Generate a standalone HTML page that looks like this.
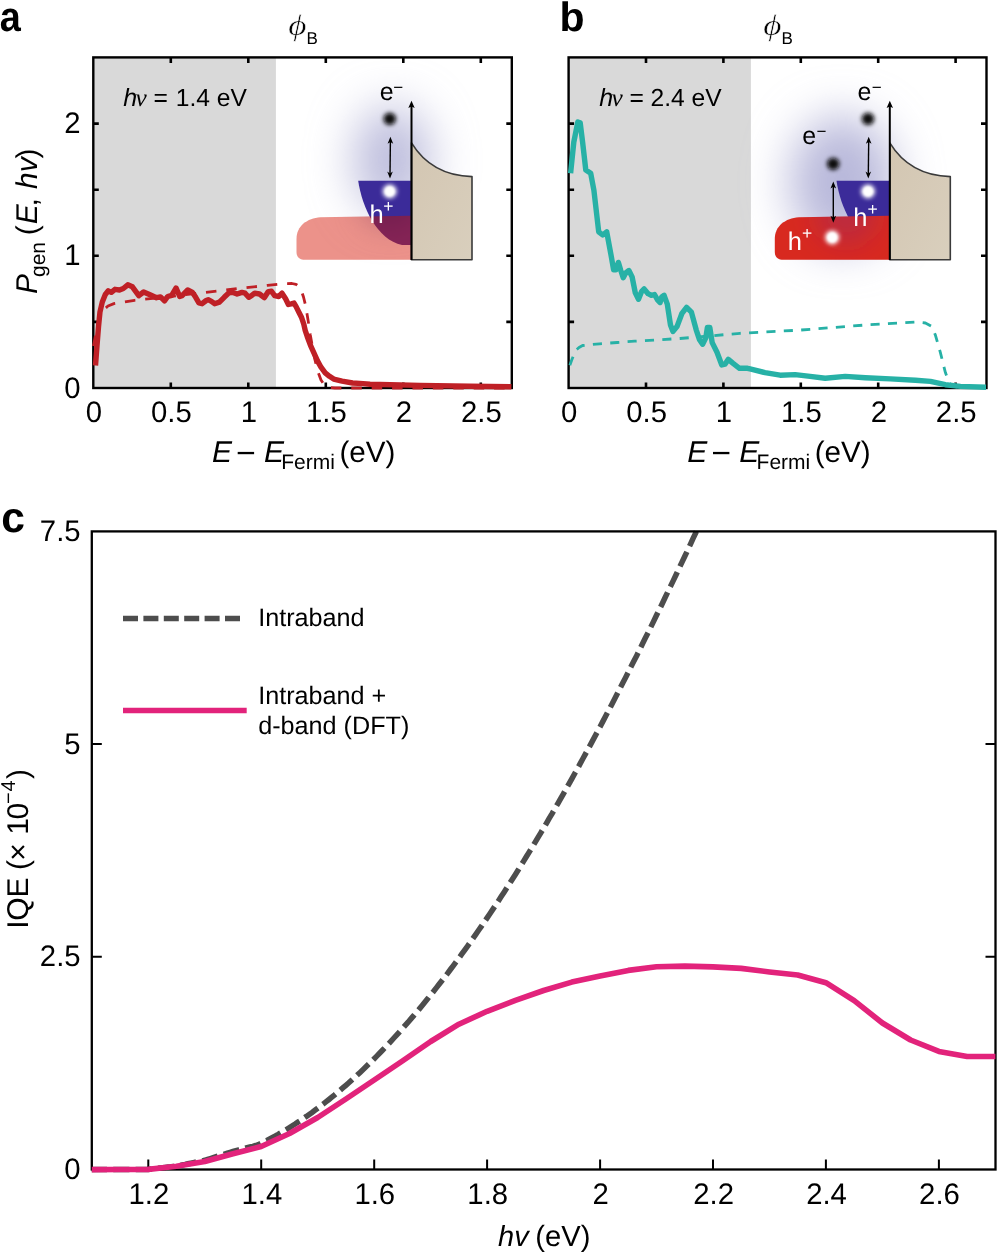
<!DOCTYPE html><html><head><meta charset="utf-8"><style>html,body{margin:0;padding:0;background:#fff;width:998px;height:1253px;overflow:hidden}svg{display:block}text{font-family:"Liberation Sans",sans-serif;text-rendering:geometricPrecision}.serif{font-family:"Liberation Serif",serif}</style></head><body>
<svg width="998" height="1253" viewBox="0 0 998 1253">
<defs><filter id="haloblur" x="-2" y="-2" width="5" height="5"><feGaussianBlur stdDeviation="23"/></filter><filter id="haloblur2" x="-2" y="-2" width="5" height="5"><feGaussianBlur stdDeviation="14"/></filter><filter id="blur22" x="-1" y="-1" width="3" height="3"><feGaussianBlur stdDeviation="2.1"/></filter><filter id="blur15" x="-1" y="-1" width="3" height="3"><feGaussianBlur stdDeviation="1.6"/></filter><filter id="blur1" x="-1" y="-1" width="3" height="3"><feGaussianBlur stdDeviation="1.2"/></filter><filter id="blur2" x="-1" y="-1" width="3" height="3"><feGaussianBlur stdDeviation="2.2"/></filter><filter id="blur3" x="-1" y="-1" width="3" height="3"><feGaussianBlur stdDeviation="2.6"/></filter><radialGradient id="haloA" cx="0.5" cy="0.5" r="0.5"><stop offset="0" stop-color="#b9b9d9" stop-opacity="1"/><stop offset="0.45" stop-color="#c9c9e2" stop-opacity="0.8"/><stop offset="1" stop-color="#ffffff" stop-opacity="0"/></radialGradient><radialGradient id="haloB" cx="0.5" cy="0.5" r="0.5"><stop offset="0" stop-color="#b4b4d6" stop-opacity="1"/><stop offset="0.45" stop-color="#c6c6e0" stop-opacity="0.8"/><stop offset="1" stop-color="#ffffff" stop-opacity="0"/></radialGradient><linearGradient id="tan" x1="0" y1="0" x2="1" y2="1"><stop offset="0" stop-color="#d3c6b2"/><stop offset="1" stop-color="#d9cfbd"/></linearGradient></defs>
<rect x="93.3" y="57.4" width="182.6" height="330.6" fill="#d9d9d9"/>
<rect x="568.6" y="57.4" width="182.3" height="330.6" fill="#d9d9d9"/>
<ellipse cx="392.0" cy="160" rx="38" ry="54" fill="#bcbcdc" filter="url(#haloblur)"/>
<path d="M358.2,180.8 C362.0,207 377.0,240 402.0,245 L411.5,245 L411.5,180.8 Z" fill="#3b2b99"/>
<clipPath id="clipA"><path d="M411.5,215.7 L320.5,217.3 C307.0,218.3 296.5,226 296.5,239 L296.5,252 C296.5,257 299.5,259.8 305.0,259.8 L411.5,259.8 Z"/></clipPath>
<path d="M411.5,215.7 L320.5,217.3 C307.0,218.3 296.5,226 296.5,239 L296.5,252 C296.5,257 299.5,259.8 305.0,259.8 L411.5,259.8 Z" fill="#d71c0a" fill-opacity="0.48"/>
<g clip-path="url(#clipA)" style="mix-blend-mode:multiply"><circle cx="390.0" cy="200" r="26" fill="#d8d0e8" filter="url(#haloblur2)"/></g>
<path d="M411.5,142.8 C420.5,157.5 437.0,175.5 472.0,176.6 L472.0,259.8 L411.5,259.8 Z" fill="url(#tan)" stroke="#3a3a3a" stroke-width="1.6" stroke-linejoin="round"/>
<path d="M411.5,260 V106" stroke="#000" stroke-width="2"/>
<path d="M411.50,100.80 L408.30,108.00 L411.50,106.40 L414.70,108.00 Z" fill="#000"/>
<path d="M390.4,141 L390.0,174.5" stroke="#000" stroke-width="1.4"/>
<path d="M390.40,136.80 L387.60,143.80 L390.40,142.00 L393.20,143.80 Z M390.00,178.60 L387.20,171.60 L390.00,173.40 L392.80,171.60 Z" fill="#000"/>
<circle cx="389.7" cy="118.9" r="6.2" fill="#080808" filter="url(#blur22)"/>
<circle cx="389.7" cy="191.4" r="7" fill="#fff" filter="url(#blur22)"/>
<circle cx="389.7" cy="191.4" r="4.6" fill="#fff" filter="url(#blur1)"/>
<text transform="translate(0,100.1) scale(1,1.0)"><tspan x="379.64" y="0.00" font-size="25">e</tspan><tspan x="393.16" y="-6.95" font-size="17">−</tspan></text>
<text transform="translate(0,222.7) scale(1,1.0)" fill="#fff"><tspan x="369.43" y="0.00" font-size="25.5">h</tspan><tspan x="383.15" y="-11.20" font-size="17.5">+</tspan></text>
<ellipse cx="842.3" cy="182" rx="52" ry="66" fill="#b8b8da" filter="url(#haloblur)"/>
<path d="M836.5,180.8 C840.3,207 855.3,240 880.3,245 L889.8,245 L889.8,180.8 Z" fill="#3b2b99"/>
<clipPath id="clipB"><path d="M889.8,215.7 L798.8,217.3 C785.3,218.3 774.8,226 774.8,239 L774.8,252 C774.8,257 777.8,259.8 783.3,259.8 L889.8,259.8 Z"/></clipPath>
<path d="M889.8,215.7 L798.8,217.3 C785.3,218.3 774.8,226 774.8,239 L774.8,252 C774.8,257 777.8,259.8 783.3,259.8 L889.8,259.8 Z" fill="#d8291f"/>
<g clip-path="url(#clipB)"><circle cx="846.3" cy="214" r="30" fill="#7a2a8a" fill-opacity="0.3" filter="url(#haloblur2)"/></g>
<path d="M889.8,142.8 C898.8,157.5 915.3,175.5 950.3,176.6 L950.3,259.8 L889.8,259.8 Z" fill="url(#tan)" stroke="#3a3a3a" stroke-width="1.6" stroke-linejoin="round"/>
<path d="M889.8,260 V106" stroke="#000" stroke-width="2"/>
<path d="M889.80,100.80 L886.60,108.00 L889.80,106.40 L893.00,108.00 Z" fill="#000"/>
<path d="M868.7,141 L868.3,174.5" stroke="#000" stroke-width="1.4"/>
<path d="M868.70,136.80 L865.90,143.80 L868.70,142.00 L871.50,143.80 Z M868.30,178.60 L865.50,171.60 L868.30,173.40 L871.10,171.60 Z" fill="#000"/>
<circle cx="868.0" cy="118.9" r="6.2" fill="#080808" filter="url(#blur22)"/>
<circle cx="868.0" cy="191.4" r="7" fill="#fff" filter="url(#blur22)"/>
<circle cx="868.0" cy="191.4" r="4.6" fill="#fff" filter="url(#blur1)"/>
<path d="M833.3,186 V218" stroke="#000" stroke-width="1.4"/>
<path d="M833.30,181.60 L830.50,188.60 L833.30,186.80 L836.10,188.60 Z M833.30,222.80 L830.50,215.80 L833.30,217.60 L836.10,215.80 Z" fill="#000"/>
<circle cx="833.2" cy="163.9" r="6.2" fill="#080808" filter="url(#blur22)"/>
<circle cx="832.2" cy="237.4" r="7" fill="#fff" filter="url(#blur22)"/><circle cx="832.2" cy="237.4" r="4.6" fill="#fff" filter="url(#blur1)"/>
<text transform="translate(0,100.4) scale(1,1.0)"><tspan x="857.54" y="0.00" font-size="25">e</tspan><tspan x="871.76" y="-6.95" font-size="17">−</tspan></text>
<text transform="translate(0,144.3) scale(1,1.0)"><tspan x="802.34" y="0.00" font-size="25">e</tspan><tspan x="816.56" y="-6.95" font-size="17">−</tspan></text>
<text transform="translate(0,225.8) scale(1,1.0)" fill="#fff"><tspan x="853.13" y="0.00" font-size="25.5">h</tspan><tspan x="867.55" y="-11.20" font-size="17.5">+</tspan></text>
<text transform="translate(0,250.3) scale(1,1.0)" fill="#fff"><tspan x="787.63" y="0.00" font-size="25.5">h</tspan><tspan x="802.05" y="-11.20" font-size="17.5">+</tspan></text>
<path d="M170.8,388.0v-5.5M170.8,57.4v5.5M248.3,388.0v-5.5M248.3,57.4v5.5M325.8,388.0v-5.5M325.8,57.4v5.5M403.3,388.0v-5.5M403.3,57.4v5.5M480.8,388.0v-5.5M480.8,57.4v5.5M93.3,321.9h5.5M511.8,321.9h-5.5M93.3,255.8h5.5M511.8,255.8h-5.5M93.3,189.7h5.5M511.8,189.7h-5.5M93.3,123.6h5.5M511.8,123.6h-5.5" stroke="#000" stroke-width="2.6" fill="none"/>
<rect x="93.3" y="57.4" width="418.5" height="330.6" fill="none" stroke="#000" stroke-width="2.4"/>
<path d="M646.0,388.0v-5.5M646.0,57.4v5.5M723.4,388.0v-5.5M723.4,57.4v5.5M800.8,388.0v-5.5M800.8,57.4v5.5M878.2,388.0v-5.5M878.2,57.4v5.5M955.6,388.0v-5.5M955.6,57.4v5.5M568.6,321.9h5.5M986.5,321.9h-5.5M568.6,255.8h5.5M986.5,255.8h-5.5M568.6,189.7h5.5M986.5,189.7h-5.5M568.6,123.6h5.5M986.5,123.6h-5.5" stroke="#000" stroke-width="2.6" fill="none"/>
<rect x="568.6" y="57.4" width="417.9" height="330.6" fill="none" stroke="#000" stroke-width="2.4"/>
<polyline points="93.3,347 95,338 97.5,325 100.5,315 104,309.5 108,306 113.9,303.6 124.8,301.8 134.5,300.3 170,296.5 206,292.3 237,288.6 267.5,285.4 285,283.6 292,283.5 296,284.3 299,286.5 301.5,291 303.5,297 305.5,305 307.2,315 308.8,324.8 310.3,335 312.5,347 315,360 318,372 321,380 324.5,385.3 328,387.2 335,388 511,388" fill="none" stroke="#bf2026" stroke-width="2.8" stroke-dasharray="10.5 9.9" stroke-dashoffset="19.35" stroke-linejoin="round"/>
<polyline points="95.5,365.5 97,345.6 98.5,326.8 100,311.8 102.3,302 105.3,294.5 108.3,290.8 111.3,292.3 115,289.3 119.5,290 123.3,288.5 127.8,284.8 132.4,286.8 138.8,295.7 143.6,292 150,294.8 156.5,297.7 160.5,296.9 164.5,300.9 167.7,296.5 171.7,295.3 176.1,288 179.7,296.5 182.1,295.7 187.7,290 192.5,292.4 195.7,297.3 198.9,302.9 202.1,303.7 206.2,300.5 208.2,299.7 211.4,301.3 214.6,303.7 219.4,302.1 224.2,297.3 229,292.8 233,292.4 237.1,294 241.9,292.4 245.1,293.2 248.7,297.3 251.5,295.7 254.7,293.2 259.5,294 264.3,297.7 268.3,291.6 271.5,291.2 274.7,295.7 278.7,296.5 282,293.2 285.6,298.8 288.4,304.5 291.2,303.8 294,303 296.1,306.6 298.9,312.2 301.7,317.8 303.8,324.1 305.2,330.4 307.3,336.7 310.5,345.4 314,353.1 317.5,360.9 321,367.2 325.2,372.8 329.5,376.3 333.7,379.1 342.1,381.2 352.6,383 363.1,383.6 370,384.2 420,385.4 470,386.2 511.4,386.8" fill="none" stroke="#bf2026" stroke-width="5.4" stroke-linejoin="round" stroke-linecap="butt"/>
<polyline points="569,367.5 572.1,359 575.6,350.5 579,347.5 582.6,345.5 591.6,344.5 599.6,343.8 617.2,342.5 634.7,341.2 680,338.5 740,333.3 800.1,330.1 865.3,325 915.4,322 925.4,323 931.6,326.3 935.4,335.1 940.4,352.6 945.4,372.6 949.2,382.7 953,386.4 960,387.5 986,387.8" fill="none" stroke="#27b1a6" stroke-width="2.8" stroke-dasharray="9.1 8.3" stroke-dashoffset="14.96" stroke-linejoin="round"/>
<polyline points="570.6,173.3 573.8,142.1 577.8,122 580.2,122.8 582.6,142.1 585.8,170.1 590.7,173.3 593.9,190.2 598.7,231.8 602.7,235 606.7,231.8 611.2,256 613.6,269.7 616,269.7 618.4,262.4 620.8,270.5 623.2,277.7 625.7,272.9 628.9,270.5 632.1,276.9 635.3,292.9 638.5,299.3 641.7,291.3 644.1,288.9 648.1,293.7 651.3,295.3 654.5,294.5 657.7,300.1 660.1,302.5 661.7,296.9 664.1,295.3 667.3,304.1 670.5,325 672.9,331.4 677,326.6 681.8,313.7 686.6,307.3 691.4,312.1 696.2,329.8 699.4,339.4 702.6,344.2 705.8,337.8 707.4,327.4 709.8,327.4 712.2,342.6 717,352.2 721.8,365 725,364.2 728.3,359.4 733.1,363.4 739.5,368.3 747.5,368.3 750,368.9 765,372.6 780.1,375.2 795.1,374.6 810.1,376.4 825.2,378.2 845.2,376.4 865.3,377.7 890.3,378.9 915.4,380.2 930.4,381.4 945.4,384.7 960.4,386.4 986,387.2" fill="none" stroke="#27b1a6" stroke-width="5.4" stroke-linejoin="round"/>
<text transform="translate(93.90,421.90) scale(1,1.015)" font-size="29.3" text-anchor="middle" >0</text>
<text transform="translate(171.40,421.90) scale(1,1.015)" font-size="29.3" text-anchor="middle" >0.5</text>
<text transform="translate(248.90,421.90) scale(1,1.015)" font-size="29.3" text-anchor="middle" >1</text>
<text transform="translate(326.40,421.90) scale(1,1.015)" font-size="29.3" text-anchor="middle" >1.5</text>
<text transform="translate(403.90,421.90) scale(1,1.015)" font-size="29.3" text-anchor="middle" >2</text>
<text transform="translate(481.40,421.90) scale(1,1.015)" font-size="29.3" text-anchor="middle" >2.5</text>
<text transform="translate(569.20,421.90) scale(1,1.015)" font-size="29.3" text-anchor="middle" >0</text>
<text transform="translate(646.60,421.90) scale(1,1.015)" font-size="29.3" text-anchor="middle" >0.5</text>
<text transform="translate(724.00,421.90) scale(1,1.015)" font-size="29.3" text-anchor="middle" >1</text>
<text transform="translate(801.40,421.90) scale(1,1.015)" font-size="29.3" text-anchor="middle" >1.5</text>
<text transform="translate(878.80,421.90) scale(1,1.015)" font-size="29.3" text-anchor="middle" >2</text>
<text transform="translate(956.20,421.90) scale(1,1.015)" font-size="29.3" text-anchor="middle" >2.5</text>
<text transform="translate(80.60,397.60) scale(1,1.015)" font-size="29.3" text-anchor="end" >0</text>
<text transform="translate(80.60,265.40) scale(1,1.015)" font-size="29.3" text-anchor="end" >1</text>
<text transform="translate(80.60,133.20) scale(1,1.015)" font-size="29.3" text-anchor="end" >2</text>
<text transform="translate(-0.35,30.65) scale(0.923,1.02)" font-size="41" font-weight="bold">a</text>
<text x="559.4" y="30.7" font-size="41" font-weight="bold">b</text>
<text x="1.35" y="532.1" font-size="42.6" font-weight="bold">c</text>
<text transform="translate(288.2,35.2) scale(1.2,1)" font-size="29.5" stroke="#fff" stroke-width="0.5" style='font-family:"Liberation Serif",serif;font-style:italic'>ϕ</text>
<text transform="translate(0,43.6) scale(1,1.0)"><tspan x="306.51" y="0.00" font-size="17">B</tspan></text>
<text transform="translate(763.3,35.2) scale(1.2,1)" font-size="29.5" stroke="#fff" stroke-width="0.5" style='font-family:"Liberation Serif",serif;font-style:italic'>ϕ</text>
<text transform="translate(0,43.6) scale(1,1.0)"><tspan x="781.61" y="0.00" font-size="17">B</tspan></text>
<text transform="translate(0,105.5) scale(1,1.0)"><tspan x="123.18" y="0.00" font-size="25" style='font-style:italic'>h</tspan><tspan x="135.55" y="0.00" font-size="25.3" style='font-family:"Liberation Serif",serif;font-style:italic'>ν</tspan><tspan x="153.60" y="0.00" font-size="24.6">=</tspan><tspan x="175.73" y="0.00" font-size="24.6">1.4 eV</tspan></text>
<text transform="translate(0,105.5) scale(1,1.0)"><tspan x="599.18" y="0.00" font-size="25" style='font-style:italic'>h</tspan><tspan x="611.55" y="0.00" font-size="25.3" style='font-family:"Liberation Serif",serif;font-style:italic'>ν</tspan><tspan x="629.60" y="0.00" font-size="24.6">=</tspan><tspan x="650.46" y="0.00" font-size="24.6">2.4 eV</tspan></text>
<text transform="translate(0,461.8) scale(1,1.0)"><tspan x="211.88" y="0.00" font-size="30" style='font-style:italic'>E</tspan><tspan x="263.98" y="0.00" font-size="30" style='font-style:italic'>E</tspan><tspan x="281.28" y="7.30" font-size="21">Fermi</tspan><tspan x="339.46" y="0.00" font-size="29.6">(eV)</tspan></text>
<rect x="237.7" y="451.9" width="16.4" height="2.3" fill="#000"/>
<text transform="translate(0,461.8) scale(1,1.0)"><tspan x="687.18" y="0.00" font-size="30" style='font-style:italic'>E</tspan><tspan x="739.28" y="0.00" font-size="30" style='font-style:italic'>E</tspan><tspan x="756.58" y="7.30" font-size="21">Fermi</tspan><tspan x="814.76" y="0.00" font-size="29.6">(eV)</tspan></text>
<rect x="713.0" y="451.9" width="16.4" height="2.3" fill="#000"/>
<text transform="translate(36.8,293.1) rotate(-90) translate(0,0) scale(1,1.0)"><tspan x="-0.92" y="0.00" font-size="30" style='font-style:italic'>P</tspan><tspan x="16.12" y="8.50" font-size="21">gen</tspan><tspan x="57.94" y="0.00" font-size="30">(</tspan><tspan x="68.98" y="0.00" font-size="30" style='font-style:italic'>E</tspan><tspan x="86.70" y="0.00" font-size="30">,</tspan><tspan x="104.20" y="0.00" font-size="30" style='font-style:italic'>hv</tspan><tspan x="134.52" y="0.00" font-size="30">)</tspan></text>
<polyline points="91.8,1169.5 94.7,1169.5 97.5,1169.5 100.3,1169.5 103.1,1169.5 105.9,1169.5 108.8,1169.5 111.6,1169.5 114.4,1169.5 117.2,1169.5 120.1,1169.5 122.9,1169.5 125.7,1169.5 128.5,1169.5 131.4,1169.5 134.2,1169.5 137,1169.4 139.8,1169.4 142.7,1169.4 145.5,1169.4 148.3,1169.4 151.1,1169.1 153.9,1168.8 156.8,1168.4 159.6,1168.1 162.4,1167.8 165.2,1167.4 168.1,1167.1 170.9,1166.8 173.7,1166.4 176.5,1166.1 179.4,1165.5 182.2,1164.9 185,1164.4 187.8,1163.8 190.7,1163.2 193.5,1162.6 196.3,1162 199.1,1161.5 201.9,1160.9 204.8,1160.3 207.6,1159.4 210.4,1158.5 213.2,1157.6 216.1,1156.7 218.9,1155.8 221.7,1155 224.5,1154.1 227.4,1153.2 230.2,1152.3 233,1151.4 235.8,1150.6 238.7,1149.9 241.5,1149.2 244.3,1148.5 247.1,1147.7 249.9,1147 252.8,1146.3 255.6,1145.5 258.4,1144.6 261.2,1143.2 264.1,1141.8 266.9,1140.4 269.7,1138.9 272.5,1137.4 275.4,1135.9 278.2,1134.3 281,1132.6 283.8,1131 286.7,1129.3 289.5,1127.6 292.3,1125.8 295.1,1124 297.9,1122.1 300.8,1120.3 303.6,1118.3 306.4,1116.4 309.2,1114.4 312.1,1112.4 314.9,1110.3 317.7,1108.2 320.5,1106.1 323.4,1103.9 326.2,1101.7 329,1099.5 331.8,1097.2 334.7,1094.9 337.5,1092.5 340.3,1090.1 343.1,1087.7 345.9,1085.3 348.8,1082.8 351.6,1080.2 354.4,1077.7 357.2,1075.1 360.1,1072.4 362.9,1069.8 365.7,1067.1 368.5,1064.3 371.4,1061.5 374.2,1058.7 377,1055.9 379.8,1053 382.7,1050 385.5,1047.1 388.3,1044.1 391.1,1041.1 393.9,1038 396.8,1034.9 399.6,1031.8 402.4,1028.6 405.2,1025.4 408.1,1022.2 410.9,1018.9 413.7,1015.6 416.5,1012.3 419.4,1008.9 422.2,1005.5 425,1002 427.8,998.6 430.6,995 433.5,991.5 436.3,987.9 439.1,984.3 441.9,980.7 444.8,977 447.6,973.3 450.4,969.5 453.2,965.8 456.1,961.9 458.9,958.1 461.7,954.2 464.5,950.3 467.4,946.4 470.2,942.4 473,938.4 475.8,934.4 478.6,930.3 481.5,926.2 484.3,922 487.1,917.9 489.9,913.7 492.8,909.4 495.6,905.2 498.4,900.9 501.2,896.6 504.1,892.2 506.9,887.8 509.7,883.4 512.5,879 515.4,874.5 518.2,870 521,865.4 523.8,860.9 526.6,856.3 529.5,851.6 532.3,847 535.1,842.3 537.9,837.6 540.8,832.8 543.6,828.1 546.4,823.3 549.2,818.4 552.1,813.6 554.9,808.7 557.7,803.8 560.5,798.8 563.4,793.8 566.2,788.8 569,783.8 571.8,778.8 574.6,773.7 577.5,768.6 580.3,763.4 583.1,758.3 585.9,753.1 588.8,747.9 591.6,742.6 594.4,737.4 597.2,732.1 600.1,726.7 602.9,721.4 605.7,716 608.5,710.6 611.4,705.2 614.2,699.8 617,694.3 619.8,688.8 622.6,683.3 625.5,677.8 628.3,672.2 631.1,666.6 633.9,661 636.8,655.4 639.6,649.7 642.4,644 645.2,638.3 648.1,632.6 650.9,626.9 653.7,621.1 656.5,615.3 659.4,609.5 662.2,603.7 665,597.8 667.8,591.9 670.6,586.1 673.5,580.1 676.3,574.2 679.1,568.3 681.9,562.3 684.8,556.3 687.6,550.3 690.4,544.3 693.2,538.2 696.1,532.1 696.4,531.4" fill="none" stroke="#4d4d4d" stroke-width="5.5" stroke-dasharray="16.2 6.24" stroke-dashoffset="1.02"/>
<path d="M148.3,1169.5v-10M261.2,1169.5v-10M374.2,1169.5v-10M487.1,1169.5v-10M600.1,1169.5v-10M713.0,1169.5v-10M825.9,1169.5v-10M938.9,1169.5v-10M91.8,956.8h10M995.5,956.8h-10M91.8,744.1h10M995.5,744.1h-10" stroke="#000" stroke-width="2" fill="none"/>
<rect x="91.8" y="531.4" width="903.7" height="638.1" fill="none" stroke="#000" stroke-width="2.3"/>
<polyline points="91.8,1169.6 120.1,1169.5 148.3,1169.4 176.5,1166.2 204.8,1161.5 233,1153.8 261.2,1146.5 289.5,1133.5 317.7,1117.5 345.9,1099 374.2,1080 402.4,1061 430.7,1041.5 458.9,1024.2 487.1,1011.3 515.4,1000.3 543.6,990.5 571.8,982.1 600.1,975.9 628.3,970.4 656.5,966.7 684.8,966.1 713,966.9 741.2,968.4 769.5,972 797.7,975 825.9,982.7 854.2,1000.6 882.4,1023 910.6,1040 938.9,1051.4 967.1,1056.5 995.4,1056.5" fill="none" stroke="#e2237b" stroke-width="5.6" stroke-linejoin="round"/>
<path d="M123,618.6 H242" stroke="#4d4d4d" stroke-width="5.5" stroke-dasharray="15 5.4"/>
<path d="M123,710.5 H246.7" stroke="#e2237b" stroke-width="5.6"/>
<text x="258.2" y="625.8" font-size="25.2">Intraband</text>
<text x="258.2" y="703.8" font-size="25.2">Intraband +</text>
<text x="258.2" y="734" font-size="25.2">d-band (DFT)</text>
<text transform="translate(148.90,1203.80) scale(1,1.015)" font-size="29.3" text-anchor="middle" >1.2</text>
<text transform="translate(261.84,1203.80) scale(1,1.015)" font-size="29.3" text-anchor="middle" >1.4</text>
<text transform="translate(374.78,1203.80) scale(1,1.015)" font-size="29.3" text-anchor="middle" >1.6</text>
<text transform="translate(487.72,1203.80) scale(1,1.015)" font-size="29.3" text-anchor="middle" >1.8</text>
<text transform="translate(600.66,1203.80) scale(1,1.015)" font-size="29.3" text-anchor="middle" >2</text>
<text transform="translate(713.60,1203.80) scale(1,1.015)" font-size="29.3" text-anchor="middle" >2.2</text>
<text transform="translate(826.54,1203.80) scale(1,1.015)" font-size="29.3" text-anchor="middle" >2.4</text>
<text transform="translate(939.48,1203.80) scale(1,1.015)" font-size="29.3" text-anchor="middle" >2.6</text>
<text transform="translate(80.60,1179.10) scale(1,1.015)" font-size="29.3" text-anchor="end" >0</text>
<text transform="translate(80.60,966.40) scale(1,1.015)" font-size="29.3" text-anchor="end" >2.5</text>
<text transform="translate(80.60,753.70) scale(1,1.015)" font-size="29.3" text-anchor="end" >5</text>
<text transform="translate(80.60,541.00) scale(1,1.015)" font-size="29.3" text-anchor="end" >7.5</text>
<text transform="translate(0,1246.3) scale(1,1.0)"><tspan x="498.02" y="0.00" font-size="29" style='font-style:italic'>hv</tspan><tspan x="535.29" y="0.00" font-size="29.2">(eV)</tspan></text>
<text transform="translate(28.4,926) rotate(-90) translate(0,0) scale(1,1.0)"><tspan x="-2.77" y="0.00" font-size="30">I</tspan><tspan x="5.38" y="0.00" font-size="30">Q</tspan><tspan x="28.64" y="0.00" font-size="30">E</tspan><tspan x="56.14" y="0.00" font-size="30">(</tspan><tspan x="65.32" y="0.00" font-size="30">×</tspan><tspan x="91.21" y="0.00" font-size="30">1</tspan><tspan x="106.63" y="0.00" font-size="30">0</tspan><tspan x="121.91" y="-13.00" font-size="20">−</tspan><tspan x="134.64" y="-13.00" font-size="20">4</tspan><tspan x="147.12" y="0.00" font-size="30">)</tspan></text>
</svg></body></html>
